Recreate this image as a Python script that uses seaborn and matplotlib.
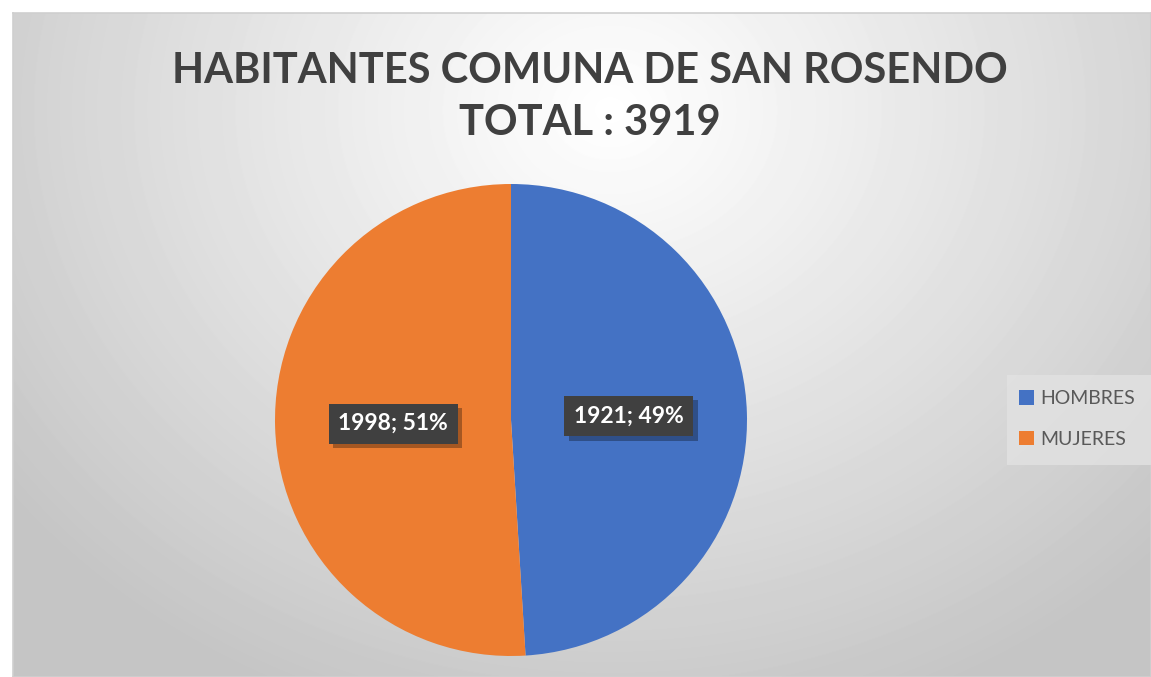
import numpy as np
import matplotlib.pyplot as plt
import matplotlib.patheffects as pe
from matplotlib.patches import Rectangle
import seaborn as sns

categories = ["HOMBRES", "MUJERES"]
values = [1921, 1998]
colors = ["#4472C4", "#ED7D31"]
title = "HABITANTES COMUNA DE SAN ROSENDO\nTOTAL : 3919"

sns.set_theme(style="white")
plt.rcParams["font.family"] = ["Lato", "DejaVu Sans"]

W, H = 1151, 677
fig = plt.figure(figsize=(W / 100, H / 100), dpi=100)
fig.patch.set_facecolor("white")

# chart area with radial grey gradient
bg = fig.add_axes([13 / W, 0, (W - 13) / W, (H - 13) / H], zorder=0)
yy, xx = np.mgrid[13:H, 13:W]
d = np.hypot((xx - 610) / 1.0, (yy - 110) / 0.85)
t = np.clip(d / 760, 0, 1) ** 1.05
shade = 1.0 - t * (1.0 - 0.77)
bg.imshow(shade, cmap="gray", vmin=0, vmax=1, aspect="auto",
          extent=[0, 1, 0, 1], interpolation="bilinear")
bg.set_xticks([])
bg.set_yticks([])
for s in bg.spines.values():
    s.set_color("#cfcfcf")
    s.set_linewidth(1.2)

fig.text(590 / W, 1 - 97 / H, title, ha="center", va="center",
         fontsize=30, fontweight="bold", color="#404040", linespacing=1.45,
         zorder=5)

# pie
ax = fig.add_axes([(511 - 236) / W, (H - 656) / H, 472 / W, 472 / H], zorder=2)
ax.set_facecolor("none")
vals_iter = iter(values)


def fmt(pct):
    return f"{next(vals_iter)}; {pct:.0f}%"


wedges, texts, autotexts = ax.pie(
    values, colors=colors, startangle=90, counterclock=False,
    autopct=fmt, pctdistance=0.5,
    wedgeprops=dict(linewidth=0),
)
ax.set_xlim(-1, 1)
ax.set_ylim(-1, 1)
for at in autotexts:
    at.set_color("white")
    at.set_fontsize(16.5)
    at.set_fontweight("bold")
    at.set_bbox(dict(boxstyle="square,pad=0.42", fc="#404040", ec="none"))
    at.get_bbox_patch().set_path_effects(
        [pe.SimplePatchShadow(offset=(3, -3), shadow_rgbFace="#000000", alpha=0.3), pe.Normal()])

# legend
leg_ax = fig.add_axes([0, 0, 1, 1], zorder=3)
leg_ax.set_axis_off()
leg_ax.add_patch(Rectangle((1007 / W, 1 - 465 / H), (W - 1007) / W, 90 / H,
                           transform=leg_ax.transAxes, fc="#e2e2e2", ec="none", alpha=0.8))
leg = leg_ax.legend(wedges, categories, loc="center left",
                    bbox_to_anchor=(1019 / W, 1 - 419 / H), frameon=False,
                    borderpad=0, borderaxespad=0,
                    fontsize=14, labelcolor="#595959", handlelength=0.75,
                    handleheight=0.75, handletextpad=0.35, labelspacing=1.2)

fig.savefig("out.png", dpi=100)
